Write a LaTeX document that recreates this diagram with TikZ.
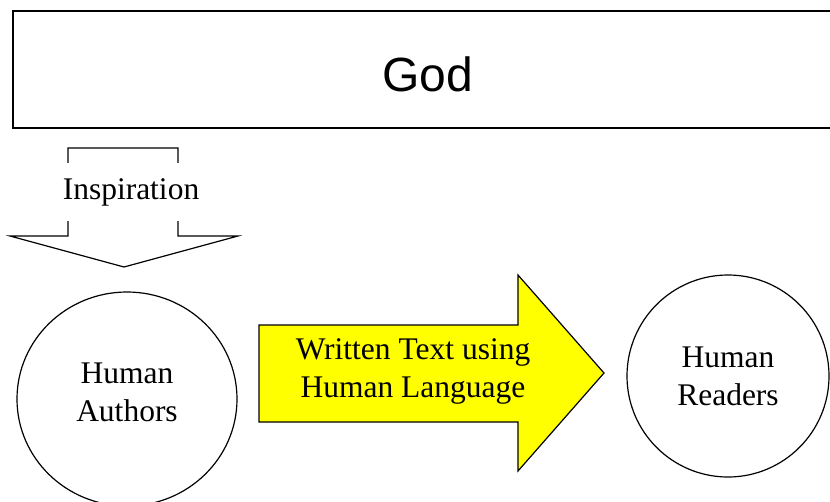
\documentclass[tikz,border=0pt]{standalone}
\usepackage{fontspec}
\setmainfont{Liberation Serif}
\newfontfamily\godfont{Liberation Sans}
\usetikzlibrary{shapes.geometric}
\definecolor{textyellow}{RGB}{255,255,0}
\tikzset{
  outline/.style={draw=black,line width=1.2pt},
  bigtext/.style={font=\fontsize{31.5}{38}\selectfont,align=center},
}
\begin{document}
\begin{tikzpicture}[x=1pt,y=-1pt]
    \useasboundingbox (0,0) rectangle (830,501);
    \node[draw,line width=1.6pt,minimum width=832pt,minimum height=117pt,anchor=north west] (god) at (12,10) {};
    \node[font=\godfont\fontsize{48}{50}\selectfont] (godlabel) at (428,74) {God};
    \draw[outline] (68,236) -- (68,148) -- (178,148) -- (178,236) -- (238,236) -- (124,267) -- (10,236) -- cycle;
    \node[bigtext,fill=white,minimum height=58pt,inner xsep=2pt] (inspiration) at (131,192) {Inspiration};
    \node[outline,ellipse,minimum width=220pt,minimum height=214pt] (authors) at (127,399) {};
    \node[bigtext] (authorslabel) at (127,392) {Human\\Authors};
    \draw[outline,fill=textyellow] (259,325) -- (518,325) -- (518,275) -- (604,373) -- (518,471) -- (518,422) -- (259,422) -- cycle;
    \node[bigtext] (written) at (413,371) {Written Text using\\Human Language};
    \node[outline,circle,minimum size=202pt,bigtext] (readers) at (728,376) {Human\\Readers};
\end{tikzpicture}
\end{document}
